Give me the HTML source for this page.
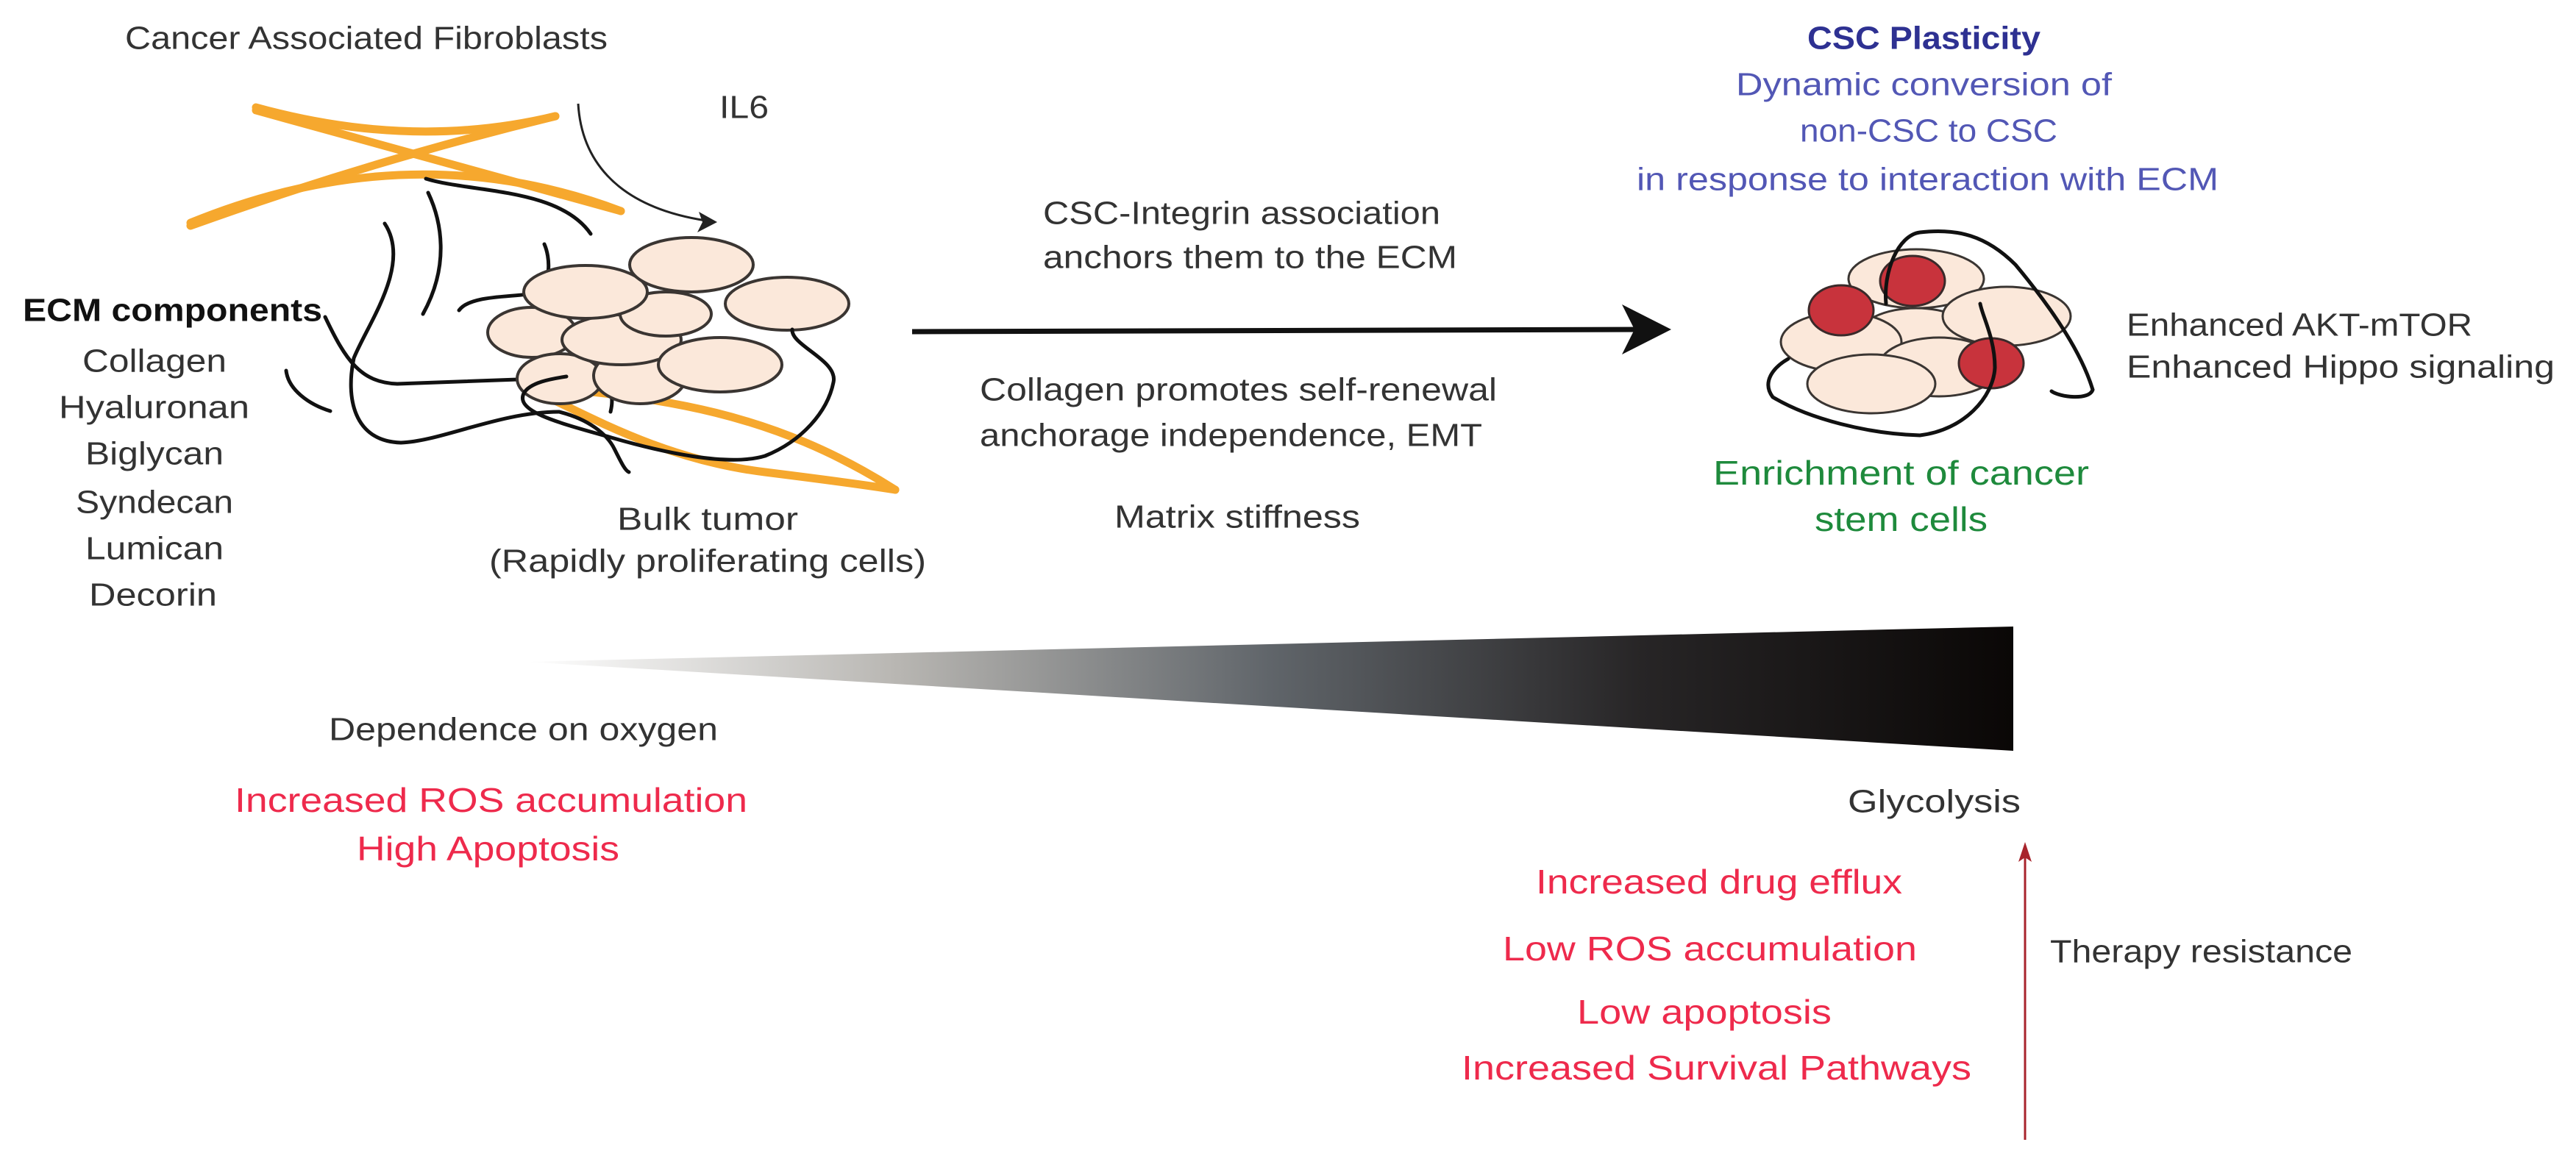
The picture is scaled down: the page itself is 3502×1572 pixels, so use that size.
<!DOCTYPE html>
<html><head><meta charset="utf-8"><style>
html,body{margin:0;padding:0;background:#fff;}
svg{display:block;}
text{font-family:"Liberation Sans",sans-serif;dominant-baseline:central;}
</style></head><body>
<svg width="3502" height="1572" viewBox="0 0 3502 1572" xmlns="http://www.w3.org/2000/svg">
<defs>
<linearGradient id="wg" x1="715" y1="0" x2="2737" y2="0" gradientUnits="userSpaceOnUse">
<stop offset="0" stop-color="#ffffff"/>
<stop offset="0.25" stop-color="#b8b6b2"/>
<stop offset="0.5" stop-color="#60656a"/>
<stop offset="0.75" stop-color="#272526"/>
<stop offset="1" stop-color="#0a0706"/>
</linearGradient>
</defs>

<!-- fibroblasts X -->
<g fill="none" stroke="#f6a82e" stroke-width="11" stroke-linecap="round">
<path d="M348,146 Q560,205 755,158"/>
<path d="M348,150 Q600,220 844,287"/>
<path d="M755,158 Q500,220 259,307"/>
<path d="M259,303 Q560,180 844,287"/>
<path d="M719,525 C900,540 1050,560 1217,666"/>
<path d="M719,528 C800,565 900,625 1040,642 C1120,652 1180,660 1217,666"/>
</g>

<!-- IL6 arrow -->
<path d="M786,141 C790,210 830,280 960,300" fill="none" stroke="#222" stroke-width="3"/>
<path d="M975,302 L950,288 L955,302 L948,316 Z" fill="#222"/>

<!-- black ECM fibers -->
<g fill="none" stroke="#111" stroke-width="5" stroke-linecap="round">
<path d="M579,243 C640,262 760,255 803,318"/>
<path d="M582,262 C600,300 612,360 575,427"/>
<path d="M523,304 C560,360 500,440 481,487 C470,540 480,600 545,602 C600,600 680,560 760,560"/>
<path d="M624,422 C640,400 700,405 730,398 C750,385 748,350 740,332"/>
<path d="M442,431 C470,490 490,520 540,522 L815,512 C830,520 835,540 830,560"/>
<path d="M389,504 C392,530 420,550 449,559"/>
</g>

<!-- bulk tumor cells -->
<g fill="#fbe8da" stroke="#3a3532" stroke-width="4">
<ellipse cx="723" cy="452" rx="60" ry="34"/>
<ellipse cx="761" cy="515" rx="58" ry="34"/>
<ellipse cx="870" cy="511" rx="63" ry="38"/>
<ellipse cx="845" cy="462" rx="81" ry="34"/>
<ellipse cx="905" cy="427" rx="62" ry="30"/>
<ellipse cx="796" cy="397" rx="84" ry="36"/>
<ellipse cx="940" cy="360" rx="84" ry="37"/>
<ellipse cx="1070" cy="413" rx="84" ry="36"/>
<ellipse cx="979" cy="496" rx="84" ry="37"/>
</g>
<g fill="none" stroke="#111" stroke-width="5" stroke-linecap="round">
<path d="M1077,448 C1075,470 1140,490 1133,520 C1125,560 1090,600 1040,620 C990,635 900,615 831,595 C760,575 700,560 712,535 C720,520 750,515 770,512"/>
<path d="M760,560 C800,570 825,590 835,610 C845,630 850,640 855,642"/>
</g>

<!-- main arrow -->
<line x1="1240" y1="451" x2="2240" y2="448" stroke="#111" stroke-width="7"/>
<path d="M2272,448 L2205,414 L2222,448 L2205,482 Z" fill="#111"/>

<!-- CSC cluster -->
<g fill="#fbe8da" stroke="#3a3532" stroke-width="3">
<ellipse cx="2605" cy="459" rx="80" ry="40"/>
<ellipse cx="2605" cy="379" rx="92" ry="40"/>
<ellipse cx="2503" cy="465" rx="82" ry="40"/>
<ellipse cx="2728" cy="430" rx="87" ry="40"/>
<ellipse cx="2636" cy="499" rx="82" ry="40"/>
<ellipse cx="2544" cy="522" rx="87" ry="40"/>
</g>
<g fill="#c8333c" stroke="#3a2a2a" stroke-width="3">
<ellipse cx="2600" cy="382" rx="44" ry="34"/>
<ellipse cx="2503" cy="422" rx="44" ry="34"/>
<ellipse cx="2707" cy="494" rx="44" ry="34"/>
</g>
<g fill="none" stroke="#111" stroke-width="5" stroke-linecap="round">
<path d="M2564,413 C2560,370 2580,320 2610,316 C2660,310 2700,320 2740,360 C2790,420 2830,480 2845,530 C2840,545 2800,540 2789,532"/>
<path d="M2431,488 C2410,500 2395,520 2410,540 C2460,570 2540,590 2610,592 C2670,585 2710,540 2712,500 C2712,460 2695,430 2692,413"/>
</g>

<!-- wedge -->
<path d="M715,900 L2737,852 L2737,1021 Z" fill="url(#wg)"/>

<!-- red arrow -->
<line x1="2753" y1="1550" x2="2753" y2="1165" stroke="#a8242c" stroke-width="3"/>
<path d="M2753,1145 L2744,1172 L2753,1166 L2762,1172 Z" fill="#a8242c"/>

<!-- texts -->
<g fill="#333" font-size="44">
<text x="170" y="52" textLength="656" lengthAdjust="spacingAndGlyphs">Cancer Associated Fibroblasts</text>
<text x="978" y="146" textLength="67" lengthAdjust="spacingAndGlyphs">IL6</text>
<text x="31" y="422" textLength="407" lengthAdjust="spacingAndGlyphs" font-weight="bold" fill="#111">ECM components</text>
<text x="112" y="491" textLength="196" lengthAdjust="spacingAndGlyphs">Collagen</text>
<text x="80" y="554" textLength="259" lengthAdjust="spacingAndGlyphs">Hyaluronan</text>
<text x="116" y="617" textLength="188" lengthAdjust="spacingAndGlyphs">Biglycan</text>
<text x="103" y="683" textLength="214" lengthAdjust="spacingAndGlyphs">Syndecan</text>
<text x="116" y="746" textLength="188" lengthAdjust="spacingAndGlyphs">Lumican</text>
<text x="121" y="809" textLength="174" lengthAdjust="spacingAndGlyphs">Decorin</text>
<text x="839" y="706" textLength="246" lengthAdjust="spacingAndGlyphs">Bulk tumor</text>
<text x="665" y="763" textLength="594" lengthAdjust="spacingAndGlyphs">(Rapidly proliferating cells)</text>
<text x="1418" y="290" textLength="540" lengthAdjust="spacingAndGlyphs">CSC-Integrin association</text>
<text x="1418" y="350" textLength="563" lengthAdjust="spacingAndGlyphs">anchors them to the ECM</text>
<text x="1332" y="530" textLength="703" lengthAdjust="spacingAndGlyphs">Collagen promotes self-renewal</text>
<text x="1332" y="592" textLength="683" lengthAdjust="spacingAndGlyphs">anchorage independence, EMT</text>
<text x="1515" y="703" textLength="334" lengthAdjust="spacingAndGlyphs">Matrix stiffness</text>
<text x="2891" y="442" textLength="470" lengthAdjust="spacingAndGlyphs">Enhanced AKT-mTOR</text>
<text x="2891" y="499" textLength="582" lengthAdjust="spacingAndGlyphs">Enhanced Hippo signaling</text>
<text x="447" y="992" textLength="529" lengthAdjust="spacingAndGlyphs">Dependence on oxygen</text>
<text x="2512" y="1090" textLength="235" lengthAdjust="spacingAndGlyphs">Glycolysis</text>
<text x="2787" y="1294" textLength="411" lengthAdjust="spacingAndGlyphs">Therapy resistance</text>
</g>
<g fill="#3237a0" font-size="44">
<text x="2457" y="52" textLength="317" lengthAdjust="spacingAndGlyphs" font-weight="bold" fill="#2e3192">CSC Plasticity</text>
<text x="2360" y="115" textLength="511" lengthAdjust="spacingAndGlyphs" fill="#5257b5">Dynamic conversion of</text>
<text x="2447" y="178" textLength="350" lengthAdjust="spacingAndGlyphs" fill="#5257b5">non-CSC to CSC</text>
<text x="2225" y="244" textLength="791" lengthAdjust="spacingAndGlyphs" fill="#5257b5">in response to interaction with ECM</text>
</g>
<g fill="#1e8a3c" font-size="46">
<text x="2329" y="643" textLength="511" lengthAdjust="spacingAndGlyphs">Enrichment of cancer</text>
<text x="2467" y="706" textLength="235" lengthAdjust="spacingAndGlyphs">stem cells</text>
</g>
<g fill="#ee2a4c" font-size="46">
<text x="319" y="1088" textLength="697" lengthAdjust="spacingAndGlyphs">Increased ROS accumulation</text>
<text x="485" y="1154" textLength="357" lengthAdjust="spacingAndGlyphs">High Apoptosis</text>
<text x="2088" y="1199" textLength="498" lengthAdjust="spacingAndGlyphs">Increased drug efflux</text>
<text x="2043" y="1290" textLength="563" lengthAdjust="spacingAndGlyphs">Low ROS accumulation</text>
<text x="2144" y="1376" textLength="346" lengthAdjust="spacingAndGlyphs">Low apoptosis</text>
<text x="1987" y="1452" textLength="693" lengthAdjust="spacingAndGlyphs">Increased Survival Pathways</text>
</g>
</svg>
</body></html>
